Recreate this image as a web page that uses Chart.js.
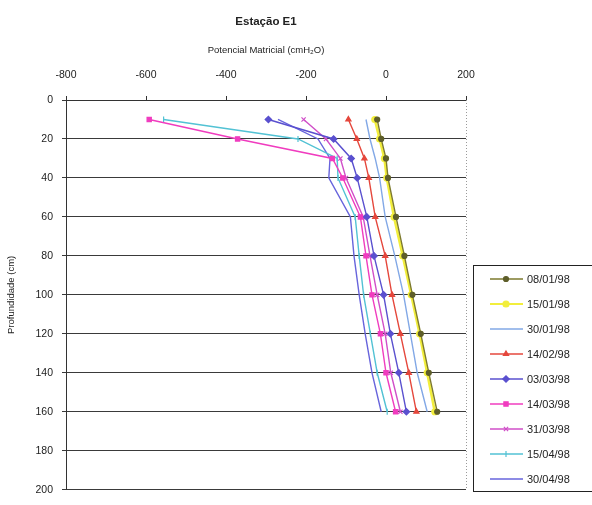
<!DOCTYPE html>
<html>
<head>
<meta charset="utf-8">
<script src="https://cdn.jsdelivr.net/npm/chart.js@4/dist/chart.umd.min.js"></script>
<style>
  html, body { margin: 0; padding: 0; background: #ffffff; }
  canvas { display: block; }
</style>
</head>
<body>
<canvas id="chart" width="592" height="505"></canvas>
<script>
// Soil water potential profile, station E1
const depths = [10, 20, 30, 40, 60, 80, 100, 120, 140, 160];   // cm
const dates = ['08/01/98', '15/01/98', '30/01/98', '14/02/98', '03/03/98',
               '14/03/98', '31/03/98', '15/04/98', '30/04/98'];

// Matric potential (cmH2O) per measurement date, one value per depth
const p080198 = [-22, -12, 0, 5, 25, 46, 66, 87, 107, 128];
const p150198 = [-28, -16, -4, 2, 20, 42, 63, 84, 103, 122];
const p300198 = [-50, -40, -27, -16, -2, 22, 44, 61, 78, 103];
const p140298 = [-94, -73, -54, -43, -27, -2, 15, 36, 57, 76];
const p030398 = [-294, -131, -87, -72, -48, -30, -6, 11, 32, 51];
const p140398 = [-592, -371, -134, -108, -64, -50, -35, -14, 0, 24];
const p310398 = [-206, -150, -114, -100, -57, -40, -22, -2, 12, 36];
const p150498 = [-556, -220, -122, -120, -77, -67, -56, -39, -22, 3];
const p300498 = [-270, -170, -140, -143, -89, -80, -67, -52, -35, -12];

const xTicks = [-800, -600, -400, -200, 0, 200];
const yTicks = [0, 20, 40, 60, 80, 100, 120, 140, 160, 180, 200];

const series = [p080198, p150198, p300198, p140298, p030398, p140398, p310398, p150498, p300498];

// Line / marker appearance for each date
const looks = [
  { color: '#7d7a2e', fill: '#5e5e2a', style: 'circle',   r: 2.5, w: 1.4 },
  { color: '#f2ee3c', fill: '#f2ee3c', style: 'circle',   r: 3,   w: 2.6 },
  { color: '#82a8e6', fill: '#82a8e6', style: 'circle',   r: 0,   w: 1.4 },
  { color: '#e5473c', fill: '#e5473c', style: 'triangle', r: 3,   w: 1.4 },
  { color: '#5a50cf', fill: '#5a50cf', style: 'rectRot',  r: 3.2, w: 1.4 },
  { color: '#f03cbf', fill: '#f03cbf', style: 'rect',     r: 3,   w: 1.4 },
  { color: '#d04fc8', fill: '#d04fc8', style: 'crossRot', r: 3,   w: 1.4 },
  { color: '#52c2d4', fill: '#52c2d4', style: 'line',     r: 3,   w: 1.4, rot: 90 },
  { color: '#6764dc', fill: '#6764dc', style: 'circle',   r: 0,   w: 1.4 }
];

const FONT = "'Liberation Sans', Arial, sans-serif";

const datasets = series.map((vals, i) => ({
  label: dates[i],
  data: depths.map((d, k) => ({ x: vals[k], y: d })),
  showLine: true,
  borderColor: looks[i].color,
  backgroundColor: looks[i].fill,
  borderWidth: looks[i].w,
  pointStyle: looks[i].style,
  pointRotation: looks[i].rot || 0,
  pointRadius: looks[i].r,
  pointBorderColor: looks[i].fill,
  pointBackgroundColor: looks[i].fill,
  pointBorderWidth: 1.2,
  tension: 0
}));

// Chart heading, plot border on the right and the boxed legend
const decor = {
  id: 'decor',
  afterDraw(chart) {
    const { ctx, chartArea: a } = chart;
    ctx.save();
    // heading
    ctx.fillStyle = '#222';
    ctx.font = 'bold 11.5px ' + FONT;
    ctx.textAlign = 'center';
    ctx.textBaseline = 'middle';
    ctx.fillText('Estação E1', (a.left + a.right) / 2, 22);

    // dotted right edge of the plotting area
    ctx.strokeStyle = '#9a9a9a';
    ctx.lineWidth = 1;
    ctx.setLineDash([1, 2]);
    ctx.beginPath();
    ctx.moveTo(a.right + 0.5, a.top);
    ctx.lineTo(a.right + 0.5, a.bottom);
    ctx.stroke();
    ctx.setLineDash([]);

    // legend box
    const bx = 473, by = 265, bw = 140, bh = 226;
    ctx.strokeStyle = '#222';
    ctx.lineWidth = 1;
    ctx.strokeRect(bx + 0.5, by + 0.5, bw, bh);

    ctx.font = '11px ' + FONT;
    ctx.textAlign = 'left';
    chart.data.datasets.forEach((ds, i) => {
      const y = 279 + i * 25;
      ctx.strokeStyle = ds.borderColor;
      ctx.lineWidth = Math.min(ds.borderWidth, 2);
      ctx.beginPath();
      ctx.moveTo(490, y);
      ctx.lineTo(523, y);
      ctx.stroke();
      if (ds.pointRadius > 0) {
        ctx.fillStyle = ds.pointBackgroundColor;
        ctx.strokeStyle = ds.pointBorderColor;
        ctx.lineWidth = ds.pointBorderWidth;
        Chart.helpers.drawPoint(ctx, {
          pointStyle: ds.pointStyle,
          rotation: ds.pointRotation,
          radius: ds.pointRadius,
          borderWidth: ds.pointBorderWidth
        }, 506, y);
      }
      ctx.fillStyle = '#222';
      ctx.fillText(ds.label, 527, y + 0.5);
    });
    ctx.restore();
  }
};

new Chart(document.getElementById('chart'), {
  type: 'scatter',
  data: { datasets },
  options: {
    responsive: false,
    animation: false,
    layout: { padding: { top: 36, right: 126, bottom: 4, left: 0 } },
    plugins: {
      legend: { display: false },
      title: { display: false },
      tooltip: { enabled: false }
    },
    scales: {
      x: {
        type: 'linear',
        position: 'top',
        min: -800,
        max: 200,
        afterBuildTicks(s) { s.ticks = xTicks.map(v => ({ value: v })); },
        afterFit(s) { s.height = 64; },
        grid: { drawOnChartArea: false, drawTicks: true, tickLength: 4, color: '#333' },
        border: { display: true, color: '#333', width: 1 },
        ticks: { color: '#222', font: { family: FONT, size: 10.5 }, padding: 15, maxRotation: 0 },
        title: {
          display: true,
          text: 'Potencial Matricial (cmH₂O)',
          color: '#222',
          font: { family: FONT, size: 9.5 },
          padding: { top: 9, bottom: 0 }
        }
      },
      y: {
        type: 'linear',
        reverse: true,
        min: 0,
        max: 200,
        afterBuildTicks(s) { s.ticks = yTicks.map(v => ({ value: v })); },
        afterFit(s) { s.width = 66; },
        grid: { color: '#3a3a3a', lineWidth: 1, drawTicks: true, tickLength: 4 },
        border: { display: true, color: '#333', width: 1 },
        ticks: { color: '#222', font: { family: FONT, size: 10.5 }, padding: 9 },
        title: {
          display: true,
          text: 'Profundidade (cm)',
          color: '#222',
          font: { family: FONT, size: 9.5 },
          padding: { top: 6, bottom: 0 }
        }
      }
    }
  },
  plugins: [decor]
});
</script>
</body>
</html>
